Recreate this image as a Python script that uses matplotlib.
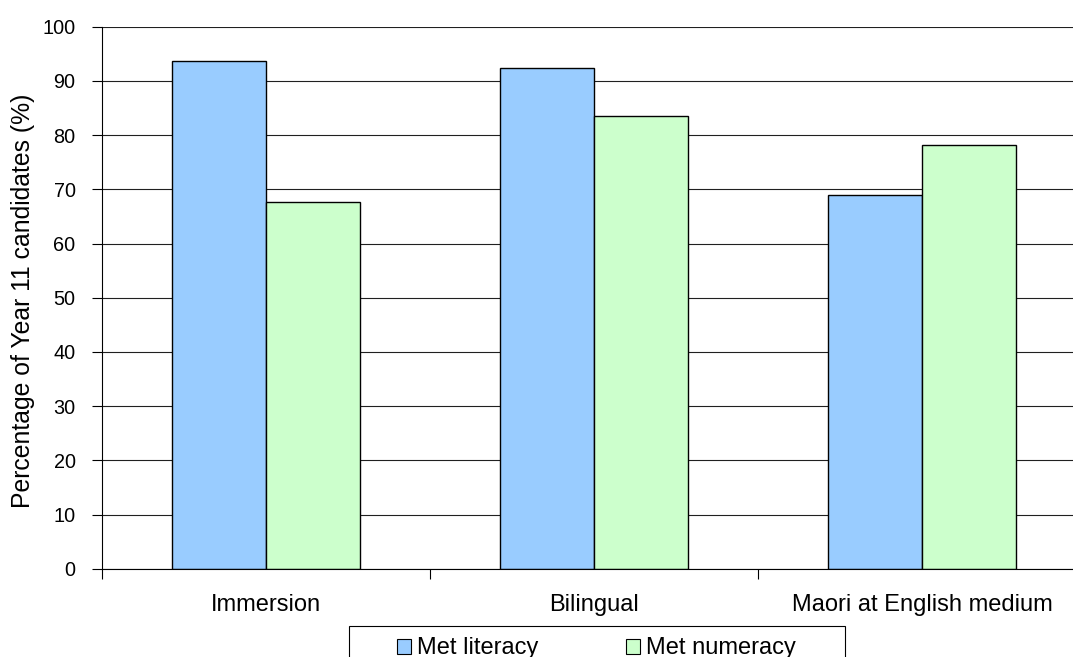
import matplotlib
matplotlib.use("Agg")
import matplotlib.pyplot as plt
from matplotlib.patches import Rectangle
import numpy as np

plt.rcParams['font.family'] = ['Liberation Sans', 'DejaVu Sans']

categories = ["Immersion", "Bilingual", "Maori at English medium"]
literacy = [93.7, 92.3, 68.9]
numeracy = [67.6, 83.6, 78.1]
series_names = ["Met literacy", "Met numeracy"]
colors = ["#99CCFF", "#CCFFCC"]
yticks = [0, 10, 20, 30, 40, 50, 60, 70, 80, 90, 100]

W, H = 1073, 657
fig = plt.figure(figsize=(W / 100, H / 100), dpi=100)

def px(x0, y0, x1, y1):
    """Figure-fraction rectangle from pixel coords (top-left origin)."""
    return [x0 / W, 1 - y1 / H, (x1 - x0) / W, (y1 - y0) / H]

ax = fig.add_axes(px(102, 26.7, 1086, 568.7))

x = np.arange(len(categories))
bw = 0.2866
ax.bar(x - bw / 2, literacy, bw, color=colors[0], edgecolor="black", linewidth=1.0, zorder=3)
ax.bar(x + bw / 2, numeracy, bw, color=colors[1], edgecolor="black", linewidth=1.0, zorder=3)

ax.set_xlim(-0.5, len(categories) - 0.5)
ax.set_ylim(0, 100)
ax.set_yticks(yticks)
ax.set_yticklabels([str(v) for v in yticks], fontsize=14.3)
ax.tick_params(axis="y", direction="out", length=7, width=0.8, pad=12)

# category labels without tick marks; separators as minor ticks
ax.set_xticks(x)
ax.set_xticklabels(categories, fontsize=17)
ax.tick_params(axis="x", which="major", length=0, pad=18)
ax.set_xticks(np.arange(-0.5, len(categories)), minor=True)
ax.tick_params(axis="x", which="minor", direction="out", length=7, width=0.8)

ax.grid(axis="y", color="#202020", linewidth=0.8, zorder=0)
ax.set_axisbelow(True)
for s in ["top", "right"]:
    ax.spines[s].set_visible(False)
for s in ["left", "bottom"]:
    ax.spines[s].set_linewidth(0.8)
    ax.spines[s].set_zorder(4)

fig.text(23 / W, 1 - 301 / H, "Percentage of Year 11 candidates (%)",
         rotation=90, ha="center", va="center", fontsize=17.8)

# legend box along the bottom edge
fig.add_artist(Rectangle((349 / W, 1 - 700 / H), (845 - 349) / W, (700 - 626) / H,
                         transform=fig.transFigure, facecolor="white",
                         edgecolor="black", linewidth=0.8))
for name, col, px0 in zip(series_names, colors, [397, 626]):
    fig.add_artist(Rectangle((px0 / W, 1 - 654 / H), 14 / W, 15 / H,
                             transform=fig.transFigure, facecolor=col,
                             edgecolor="black", linewidth=0.8))
    fig.text((px0 + 20) / W, 1 - 654 / H, name, ha="left", va="baseline", fontsize=17)

fig.savefig("out.png", dpi=100)
